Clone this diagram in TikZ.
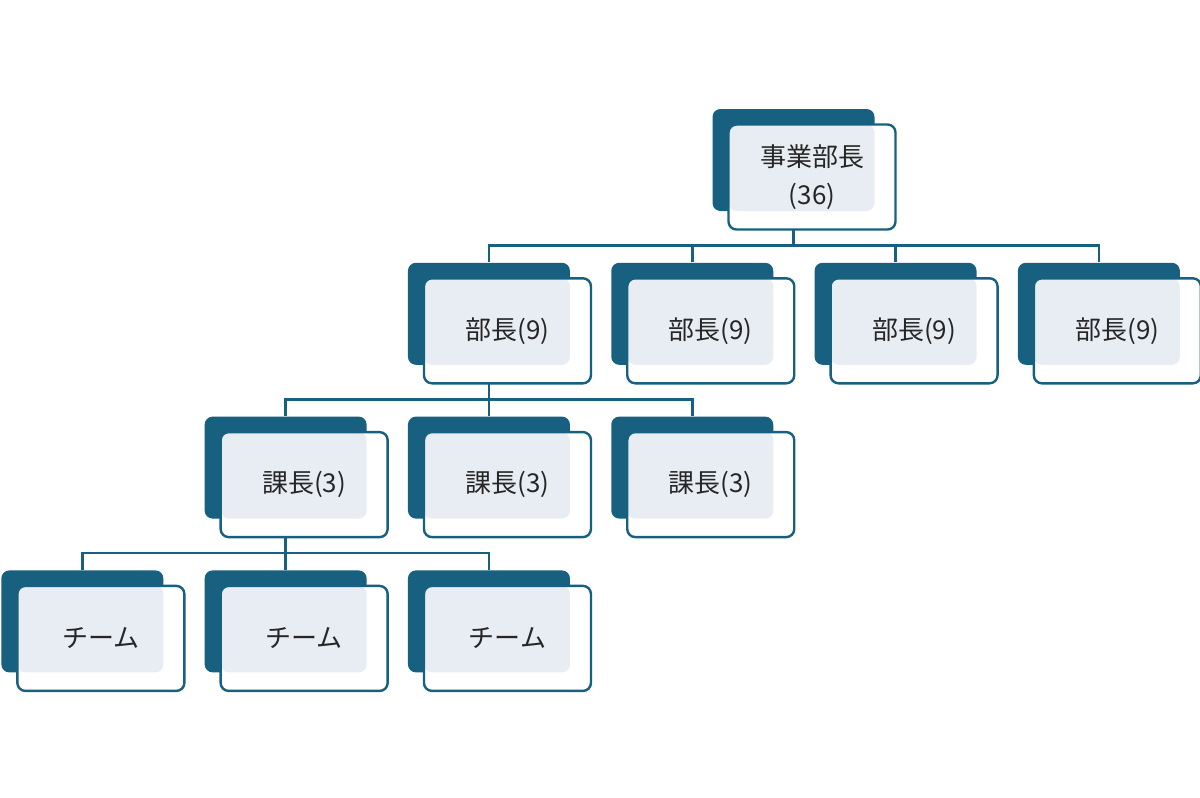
\documentclass[tikz,border=0pt]{standalone}
\usepackage{fontspec}
\newfontfamily\cjk{Noto Sans CJK JP}
\usetikzlibrary{positioning}
\definecolor{deep}{HTML}{17607F}
\definecolor{lite}{HTML}{E8EDF3}
\tikzset{
    chart/.style={node distance=25.5pt and 20.25pt},
    back/.style={rectangle, rounded corners=4pt, fill=deep, inner sep=0pt,
                     minimum width=81pt, minimum height=51pt},
    front/.style={rectangle, rounded corners=4pt, draw=deep, line width=1.2pt,
                     fill=white, minimum width=83.5pt, minimum height=52.5pt,
                     text=black!85, align=center,
                     font=\cjk\fontsize{13pt}{19pt}\selectfont,
                     path picture={\fill[lite, rounded corners=4pt]
                       (path picture bounding box.north west) rectangle
                       ([xshift=-10.5pt,yshift=9.25pt]path picture bounding box.south east);}},
    link/.style={draw=deep, line width=1.3pt},
    }

\begin{document}
\begin{tikzpicture}[chart]
            \useasboundingbox (0,0) rectangle (600pt,-399pt);

            \node[back] (r) at (396.75pt,-80pt) {};
            \node[back] (b2) [below=of r, xshift=-50.625pt] {};
            \node[back] (b1) [left=of b2] {};
            \node[back] (b3) [right=of b2] {};
            \node[back] (b4) [right=of b3] {};
            \node[back] (c2) [below=of b1] {};
            \node[back] (c1) [left=of c2] {};
            \node[back] (c3) [right=of c2] {};
            \node[back] (d2) [below=of c1] {};
            \node[back] (d1) [left=of d2] {};
            \node[back] (d3) [right=of d2] {};

            \path[link] (r.south) -- ++(0,-17pt) -| (b1.north);
            \path[link] (r.south) -- ++(0,-17pt) -| (b2.north);
            \path[link] (r.south) -- ++(0,-17pt) -| (b3.north);
            \path[link] (r.south) -- ++(0,-17pt) -| (b4.north);
            \path[link] (b1.south) -- ++(0,-17pt) -| (c1.north);
            \path[link] (b1.south) -- ++(0,-17pt) -| (c2.north);
            \path[link] (b1.south) -- ++(0,-17pt) -| (c3.north);
            \path[link] (c1.south) -- ++(0,-17pt) -| (d1.north);
            \path[link] (c1.south) -- ++(0,-17pt) -| (d2.north);
            \path[link] (c1.south) -- ++(0,-17pt) -| (d3.north);

            \node[front] (rt) at ([shift={(9.25pt,-8.5pt)}]r.center) {事業部長\\(36)};
            \node[front] (b1t) at ([shift={(9.25pt,-8.5pt)}]b1.center) {部長(9)};
            \node[front] (b2t) at ([shift={(9.25pt,-8.5pt)}]b2.center) {部長(9)};
            \node[front] (b3t) at ([shift={(9.25pt,-8.5pt)}]b3.center) {部長(9)};
            \node[front] (b4t) at ([shift={(9.25pt,-8.5pt)}]b4.center) {部長(9)};
            \node[front] (c1t) at ([shift={(9.25pt,-8.5pt)}]c1.center) {課長(3)};
            \node[front] (c2t) at ([shift={(9.25pt,-8.5pt)}]c2.center) {課長(3)};
            \node[front] (c3t) at ([shift={(9.25pt,-8.5pt)}]c3.center) {課長(3)};
            \node[front] (d1t) at ([shift={(9.25pt,-8.5pt)}]d1.center) {チーム};
            \node[front] (d2t) at ([shift={(9.25pt,-8.5pt)}]d2.center) {チーム};
            \node[front] (d3t) at ([shift={(9.25pt,-8.5pt)}]d3.center) {チーム};
        \end{tikzpicture}
\end{document}
